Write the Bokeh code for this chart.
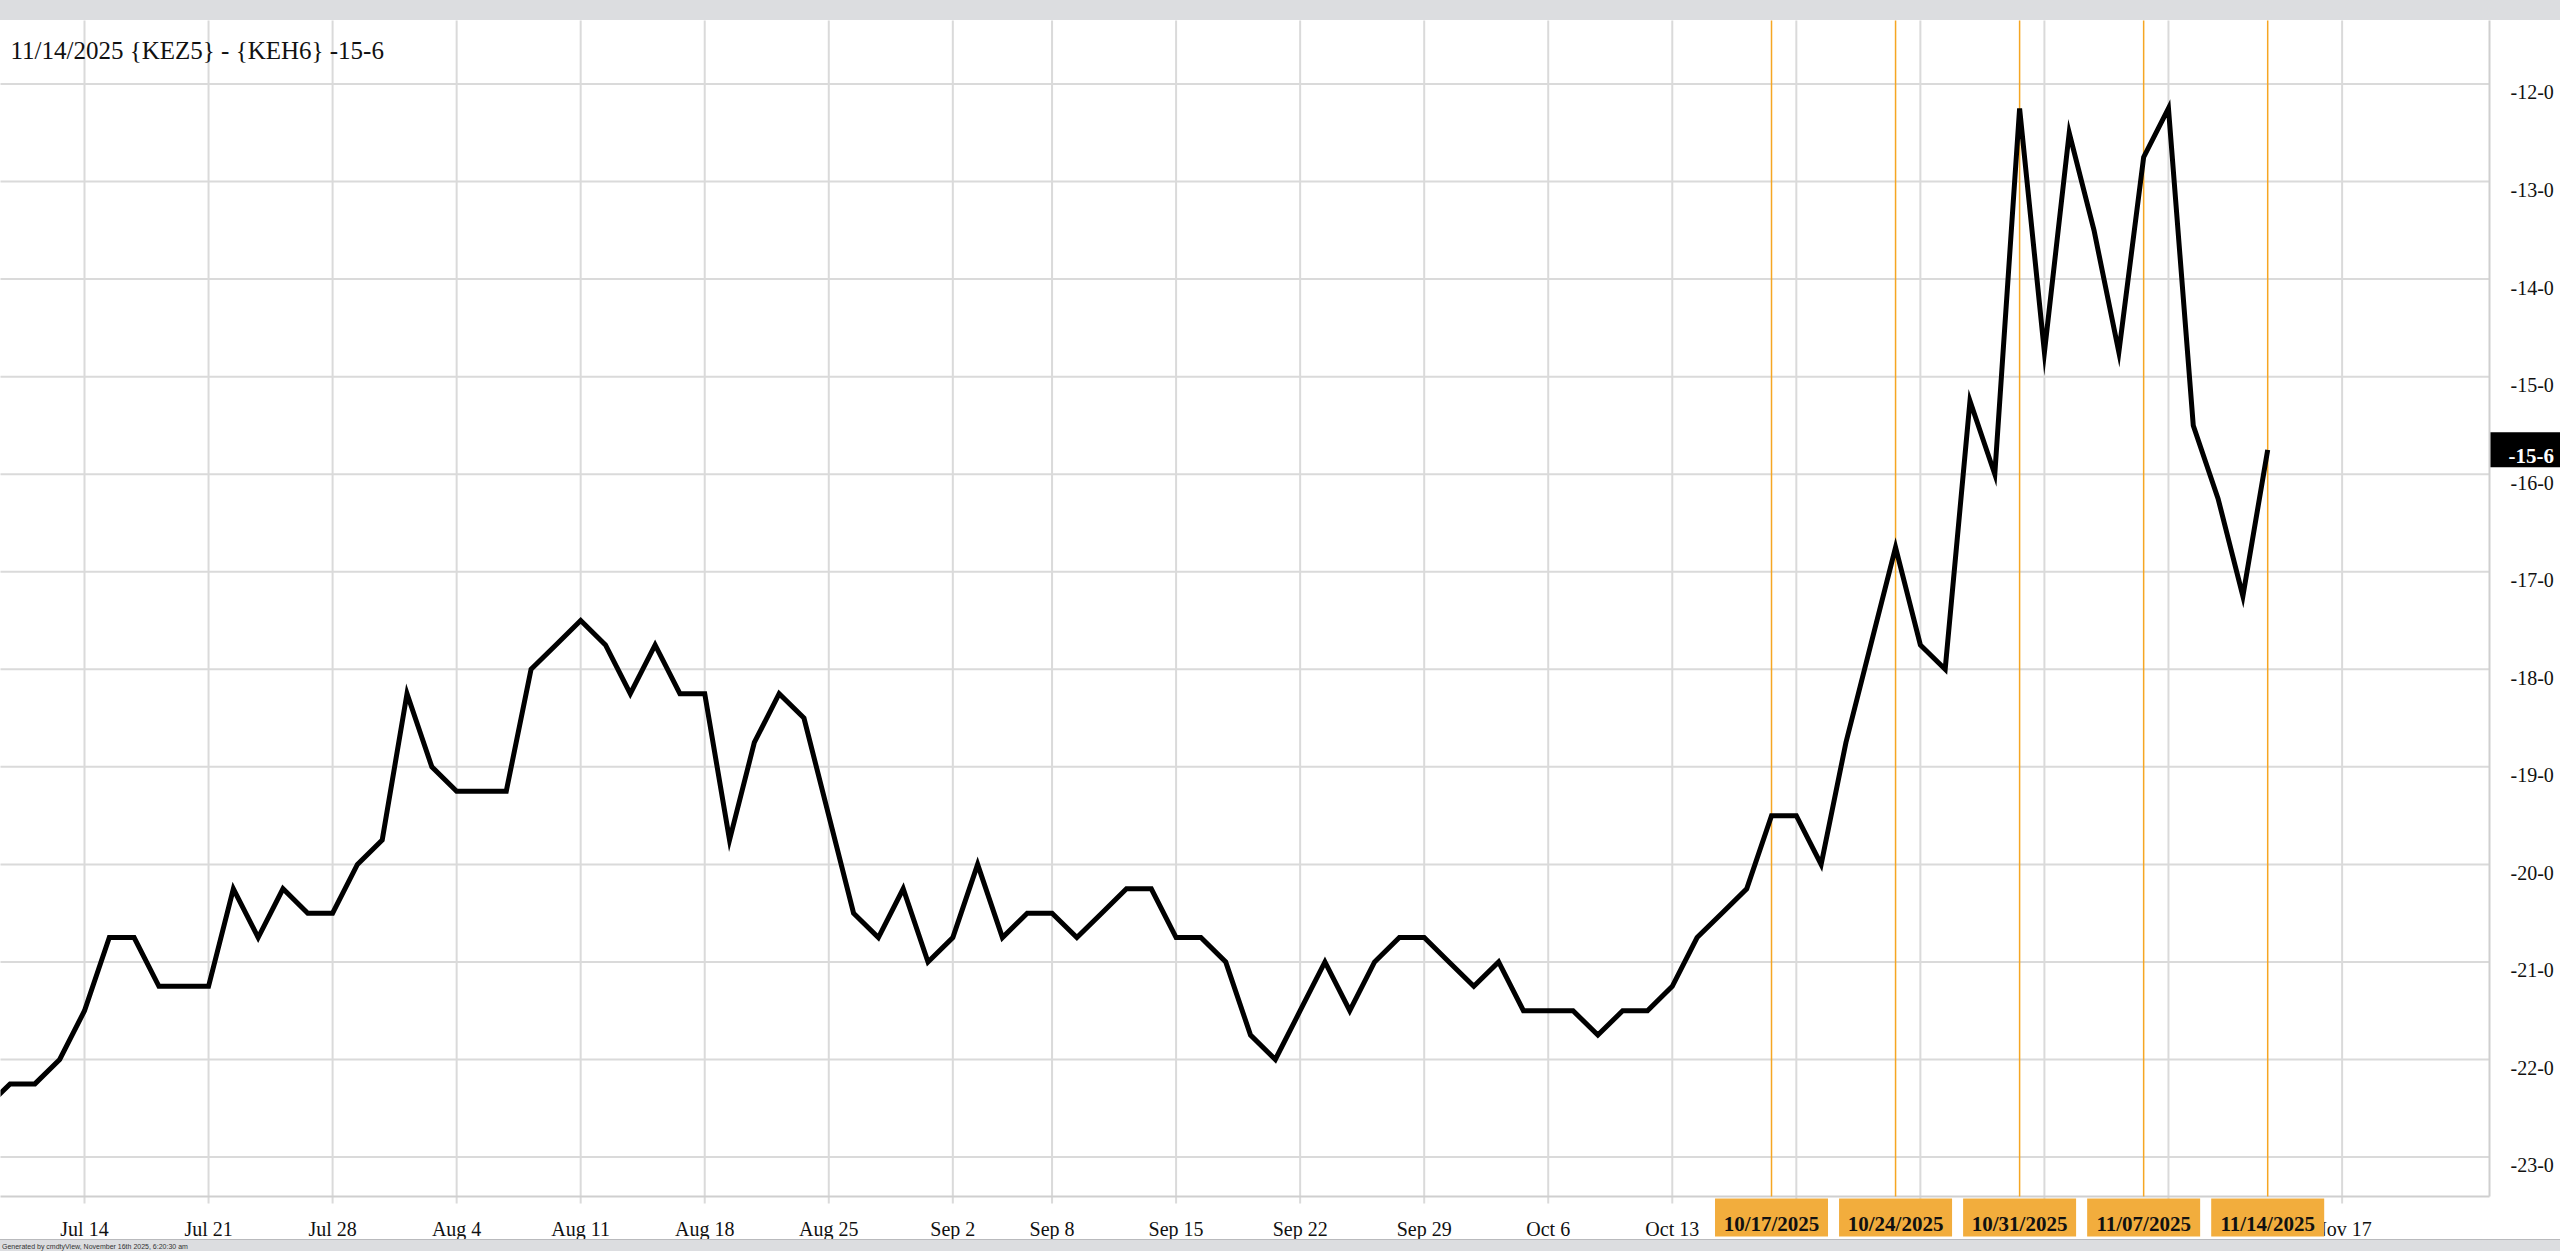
import pandas as pd
from bokeh.plotting import figure
from bokeh.layouts import column
from bokeh.models import Range1d, Div
from bokeh.core.properties import value
from bokeh.embed import file_html
from bokeh.resources import INLINE

# ---------------- data ----------------
holidays = ["2025-09-01"]
trading_days = [d for d in pd.bdate_range("2025-07-08", "2025-11-14")
                if d.strftime("%Y-%m-%d") not in holidays]

spread_values = [
    -22.5, -22.25, -22.25, -22.0,                 # Jul 8-11
    -21.5, -20.75, -20.75, -21.25, -21.25,        # Jul 14
    -21.25, -20.25, -20.75, -20.25, -20.5,        # Jul 21
    -20.5, -20.0, -19.75, -18.25, -19.0,          # Jul 28
    -19.25, -19.25, -19.25, -18.0, -17.75,        # Aug 4
    -17.5, -17.75, -18.25, -17.75, -18.25,        # Aug 11
    -18.25, -19.75, -18.75, -18.25, -18.5,        # Aug 18
    -19.5, -20.5, -20.75, -20.25, -21.0,          # Aug 25
    -20.75, -20.0, -20.75, -20.5,                 # Sep 2
    -20.5, -20.75, -20.5, -20.25, -20.25,         # Sep 8
    -20.75, -20.75, -21.0, -21.75, -22.0,         # Sep 15
    -21.5, -21.0, -21.5, -21.0, -20.75,           # Sep 22
    -20.75, -21.0, -21.25, -21.0, -21.5,          # Sep 29
    -21.5, -21.5, -21.75, -21.5, -21.5,           # Oct 6
    -21.25, -20.75, -20.5, -20.25, -19.5,         # Oct 13
    -19.5, -20.0, -18.75, -17.75, -16.75,         # Oct 20
    -17.75, -18.0, -15.25, -16.0, -12.25,         # Oct 27
    -14.75, -12.5, -13.5, -14.75, -12.75,         # Nov 3
    -12.25, -15.5, -16.25, -17.25, -15.75,        # Nov 10
]

tick_dates = ["2025-07-14", "2025-07-21", "2025-07-28", "2025-08-04", "2025-08-11",
              "2025-08-18", "2025-08-25", "2025-09-02", "2025-09-08", "2025-09-15",
              "2025-09-22", "2025-09-29", "2025-10-06", "2025-10-13", "2025-10-20",
              "2025-10-27", "2025-11-03", "2025-11-10", "2025-11-17"]
tick_labels = ["Jul 14", "Jul 21", "Jul 28", "Aug 4", "Aug 11", "Aug 18", "Aug 25",
               "Sep 2", "Sep 8", "Sep 15", "Sep 22", "Sep 29", "Oct 6", "Oct 13",
               "", "", "", "", "Nov 17"]
highlight_dates = ["2025-10-17", "2025-10-24", "2025-10-31", "2025-11-07", "2025-11-14"]
y_ticks = [-12, -13, -14, -15, -16, -17, -18, -19, -20, -21, -22, -23]
y_tick_labels = ["-12-0", "-13-0", "-14-0", "-15-0", "-16-0", "-17-0",
                 "-18-0", "-19-0", "-20-0", "-21-0", "-22-0", "-23-0"]
symbol_text = "{KEZ5} - {KEH6}"
footer_text = "Generated by cmdtyView, November 16th 2025, 6:20:30 am"

# ---------------- helpers ----------------
day_index = {d.strftime("%Y-%m-%d"): i for i, d in enumerate(trading_days)}
last_day = trading_days[-1]


def xpos(ds):
    if ds in day_index:
        return day_index[ds]
    return len(trading_days) - 1 + (pd.Timestamp(ds) - last_day).days


def fmt_eighths(v):
    sign = "-" if v < 0 else ""
    a = abs(v)
    whole = int(a)
    eighths = int(round((a - whole) * 8))
    return f"{sign}{whole}-{eighths}"


# layout (screen pixels)
PAGE_W = 2560
TOP_BAND, BOTTOM_BAND = 20, 12
FIG_H = 1251 - TOP_BAND - BOTTOM_BAND
PLOT_RIGHT_PX, PLOT_BOTTOM_PX = 2489, 1196

PX_X = 24.809           # pixels per trading day
PX_Y = 97.55            # pixels per cent
X0 = 0.614              # x value at the left edge
Y_TOP = -11.349         # y value at the top edge of the plot (screen y = 20)
X1 = X0 + PAGE_W / PX_X
Y_BOT = Y_TOP - FIG_H / PX_Y


def sx(px):
    return X0 + px / PX_X


def sy(py):
    return Y_TOP - (py - TOP_BAND) / PX_Y


PLOT_RIGHT = sx(PLOT_RIGHT_PX)
PLOT_BOTTOM = sy(PLOT_BOTTOM_PX)

xs = list(range(len(spread_values)))
last_val = spread_values[-1]

GRID = "#dadada"
BORDER = "#cfcfcf"
ORANGE_LINE = "#f5a623"
ORANGE_BOX = "#f2ad3d"
SERIF = "Liberation Serif"
TXT = "#111111"

p = figure(width=PAGE_W, height=FIG_H, x_range=Range1d(X0, X1), y_range=Range1d(Y_BOT, Y_TOP),
           output_backend="svg", toolbar_location=None, title=None,
           x_axis_location=None, y_axis_location=None,
           min_border_left=0, min_border_top=0, min_border_right=0, min_border_bottom=0,
           background_fill_color="white", border_fill_color="white", outline_line_color=None)
p.grid.visible = False

# grid lines (vertical ones run a little below the plot as tick marks)
tick_x = [xpos(d) for d in tick_dates]
p.segment(x0=tick_x, y0=[sy(PLOT_BOTTOM_PX + 7)] * len(tick_x), x1=tick_x,
          y1=[Y_TOP + 1] * len(tick_x), line_color=GRID, line_width=2)
p.segment(x0=[X0 - 1] * len(y_ticks), y0=y_ticks, x1=[PLOT_RIGHT] * len(y_ticks), y1=y_ticks,
          line_color=GRID, line_width=2)

# plot border (bottom and right)
p.segment(x0=[X0 - 1, PLOT_RIGHT], y0=[PLOT_BOTTOM, PLOT_BOTTOM],
          x1=[PLOT_RIGHT, PLOT_RIGHT], y1=[PLOT_BOTTOM, Y_TOP + 1],
          line_color=BORDER, line_width=2)

# weekly highlight lines
hx = [xpos(d) for d in highlight_dates]
p.segment(x0=hx, y0=[PLOT_BOTTOM] * len(hx), x1=hx, y1=[Y_TOP + 1] * len(hx),
          line_color=ORANGE_LINE, line_width=1.5)

# series
p.line(xs, spread_values, line_color="black", line_width=5, line_join="miter")

# x tick labels
p.text(x=tick_x, y=[sy(1228)] * len(tick_x), text=tick_labels,
       text_font=value(SERIF), text_font_size=value("20px"), text_color=TXT,
       text_align="center", text_baseline="alphabetic")

# y tick labels (right side)
p.text(x=[sx(2510)] * len(y_ticks), y=[v - 8.4 / PX_Y for v in y_ticks], text=y_tick_labels,
       text_font=value(SERIF), text_font_size=value("20px"), text_color=TXT,
       text_align="left", text_baseline="alphabetic")

# title
p.text(x=[sx(10)], y=[sy(50)],
       text=[f"{last_day:%m/%d/%Y} {symbol_text} {fmt_eighths(last_val)}"],
       text_font=value(SERIF), text_font_size=value("25px"), text_color=TXT,
       text_align="left", text_baseline="alphabetic")

# date boxes under the axis
box_half_w = 56.5 / PX_X
p.quad(left=[x - box_half_w for x in hx], right=[x + box_half_w for x in hx],
       bottom=[sy(1236)] * len(hx), top=[sy(1198)] * len(hx),
       fill_color=ORANGE_BOX, line_color=None)
p.text(x=hx, y=[sy(1223)] * len(hx),
       text=[pd.Timestamp(d).strftime("%m/%d/%Y") for d in highlight_dates],
       text_font=value(SERIF), text_font_size=value("21px"), text_font_style="bold",
       text_color=TXT, text_align="center", text_baseline="alphabetic")

# last value marker on the price axis
p.quad(left=[sx(2490)], right=[sx(2562)], bottom=[last_val - 17.5 / PX_Y],
       top=[last_val + 17.5 / PX_Y], fill_color="black", line_color=None)
p.text(x=[sx(2508)], y=[last_val - 6 / PX_Y], text=[fmt_eighths(last_val)],
       text_font=value(SERIF), text_font_size=value("21px"), text_font_style="bold",
       text_color="white", text_align="left", text_baseline="alphabetic")

top_band = Div(text="", width=PAGE_W, height=TOP_BAND, margin=(0, 0, 0, 0),
               styles={"background-color": "#dcdde0"})
bottom_band = Div(text=f'<span style="font-family: \'Liberation Sans\'; font-size: 7px; color: #333; white-space: nowrap;">{footer_text}</span>',
                  width=PAGE_W, height=BOTTOM_BAND, margin=(0, 0, 0, 0),
                  styles={"background-color": "#dcdde0", "border-top": "1px solid #b9babd",
                          "box-sizing": "border-box", "padding-left": "2px",
                          "line-height": "10px", "overflow": "hidden"})

layout = column(top_band, p, bottom_band, spacing=0)
open("out.html", "w").write(file_html(layout, INLINE))
